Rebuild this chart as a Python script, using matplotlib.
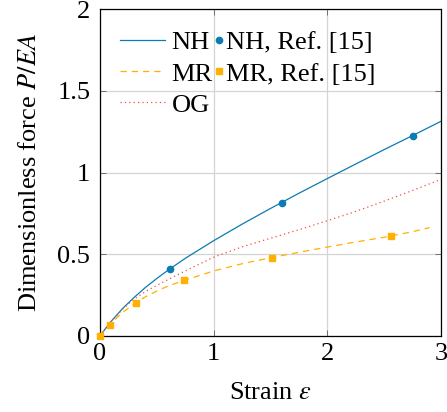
import matplotlib
matplotlib.use("Agg")
import matplotlib.pyplot as plt

plt.rcParams['font.family'] = ['Liberation Serif', 'DejaVu Serif']
plt.rcParams['mathtext.fontset'] = 'stix'
plt.rcParams['font.size'] = 19

# Neo-Hookean curve
nh_strain = [0, 0.05, 0.1, 0.2, 0.3, 0.4, 0.5, 0.6, 0.75, 1.0, 1.25, 1.5, 1.75, 2.0, 2.25, 2.5, 2.75, 3.0]
nh_force = [0, 0.047, 0.091, 0.169, 0.236, 0.297, 0.352, 0.403, 0.475, 0.583, 0.684, 0.780, 0.873, 0.963, 1.052, 1.140, 1.226, 1.313]

# Mooney-Rivlin curve
mr_strain = [0, 0.05, 0.1, 0.2, 0.3, 0.4, 0.5, 0.6, 0.75, 1.0, 1.25, 1.5, 1.75, 2.0, 2.25, 2.5, 2.75, 2.9]
mr_force = [0, 0.042, 0.080, 0.145, 0.196, 0.240, 0.275, 0.306, 0.342, 0.398, 0.442, 0.478, 0.512, 0.544, 0.575, 0.604, 0.638, 0.663]

# Ogden curve
og_strain = [0, 0.05, 0.1, 0.2, 0.3, 0.4, 0.5, 0.6, 0.75, 1.0, 1.25, 1.5, 1.75, 2.0, 2.25, 2.5, 2.75, 3.0]
og_force = [0, 0.046, 0.090, 0.165, 0.226, 0.272, 0.310, 0.345, 0.398, 0.482, 0.545, 0.598, 0.650, 0.705, 0.762, 0.825, 0.890, 0.958]

# Reference data [15]
nh_ref_strain = [0.62, 1.60, 2.75]
nh_ref_force = [0.408, 0.815, 1.225]
mr_ref_strain = [0.0, 0.09, 0.32, 0.74, 1.51, 2.56]
mr_ref_force = [0.0, 0.066, 0.204, 0.340, 0.480, 0.614]

blue = '#0b7bb3'
yellow = '#ffb000'
red = '#f0503c'

fig = plt.figure(figsize=(4.47, 4.12), dpi=100)
ax = fig.add_axes([100/447, 1-336/412, 341/447, 327/412])

l_nh, = ax.plot(nh_strain, nh_force, color=blue, lw=0.9, label='NH')
l_mr, = ax.plot(mr_strain, mr_force, color=yellow, lw=0.9, ls=(0, (5, 4)), label='MR')
l_og, = ax.plot(og_strain, og_force, color=red, lw=0.9, ls=(0, (1, 2.5)), label='OG')
m_nh, = ax.plot(nh_ref_strain, nh_ref_force, 'o', color=blue, ms=4.5,
                label='NH, Ref. [15]', clip_on=False, zorder=5)
m_mr, = ax.plot(mr_ref_strain, mr_ref_force, 's', color=yellow, ms=4.8,
                label='MR, Ref. [15]', clip_on=False, zorder=5)

ax.set_xlim(0, 3)
ax.set_ylim(0, 2)
ax.set_xticks([0, 1, 2, 3])
ax.set_xticklabels(['0', '1', '2', '3'])
ax.set_yticks([0, 0.5, 1, 1.5, 2])
ax.set_yticklabels(['0', '0.5', '1', '1.5', '2'])
ax.grid(True, color='#d4d4d4', lw=0.9)
ax.set_axisbelow(True)
ax.tick_params(direction='in', top=True, right=True, length=4, width=0.6, color='#606060')
ax.tick_params(axis='x', pad=5)
ax.tick_params(axis='y', pad=7)
for s in ax.spines.values():
    s.set_linewidth(0.9)

ax.set_xlabel(r'Strain $\varepsilon$', labelpad=12)
ax.set_ylabel(r'Dimensionless force $P/EA$', labelpad=12)

leg1 = ax.legend(handles=[l_nh, l_mr, l_og], loc='upper left', frameon=False,
                 bbox_to_anchor=(0.0587, 0.933), handlelength=1.7, handletextpad=0.25,
                 labelspacing=0.29, borderaxespad=0, borderpad=0)
ax.add_artist(leg1)
leg2 = ax.legend(handles=[m_nh, m_mr], loc='upper left', frameon=False,
                 bbox_to_anchor=(0.338, 0.933), handlelength=0.3, handletextpad=0.12,
                 labelspacing=0.29, borderaxespad=0, borderpad=0)

fig.savefig('out.png', dpi=100)
